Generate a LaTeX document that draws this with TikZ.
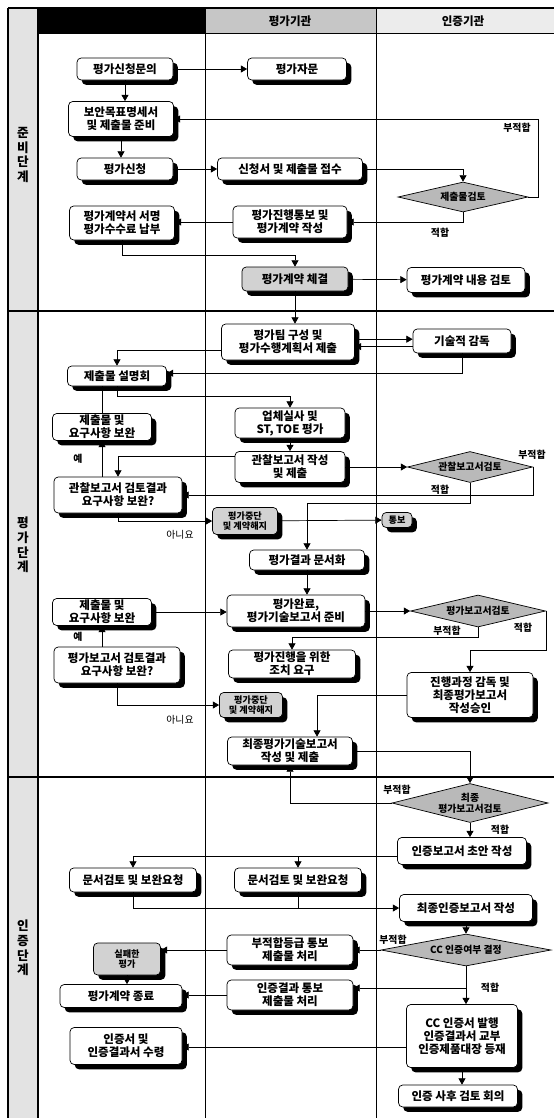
\documentclass[tikz,border=0pt]{standalone}
\usepackage{fontspec}
\setmainfont{Noto Sans CJK KR}
\usepackage{tikz}
\usetikzlibrary{arrows.meta,positioning,shapes.geometric,shadows,calc}

\begin{document}
\begin{tikzpicture}[x=0.025cm,y=-0.025cm,>={Triangle[length=4.5pt,width=5pt]},
      line width=0.5pt,font=\bfseries\fontsize{8.2}{9.3}\selectfont,
      sz/.style 2 args={minimum width=#1*0.025cm,minimum height=#2*0.025cm},
      box/.style={draw,fill=white,rounded corners=3pt,align=center,inner sep=1pt,
        drop shadow={shadow xshift=0.12cm,shadow yshift=-0.12cm,opacity=1,fill=black}},
      gbox/.style={box,fill=gray!35},
      dec/.style={diamond,draw,fill=gray!55,aspect=4,inner sep=0pt,align=center,font=\bfseries\fontsize{7}{8}\selectfont},
      lbl/.style={inner sep=0pt,font=\bfseries\fontsize{7}{8}\selectfont},
      phase/.style={align=center,inner sep=0pt,font=\bfseries\fontsize{9}{10.5}\selectfont}]
    \useasboundingbox (0,0) rectangle (554,1118);
    \fill[gray!22] (8,8) rectangle (38,1118);
    \fill[black] (38,8) rectangle (205,33);
    \fill[gray!45] (205,8) rectangle (376,33);
    \fill[gray!15] (376,8) rectangle (554,33);
    \node (h2) at (290,21) {평가기관};
    \node (h3) at (463,21) {인증기관};
    \draw[line width=1pt] (8,8) -- (554,8);
    \draw (38,33) -- (554,33);
    \draw[line width=1pt] (8,8) -- (8,1118);
    \draw[line width=1.5pt] (38,8) -- (38,1118);
    \draw (205,8) -- (205,1118);
    \draw (376,8) -- (376,1118);
    \draw[line width=1pt] (8,311) -- (554,311);
    \draw[line width=1pt] (8,777) -- (554,777);
    \node[phase] (p1) at (23,155) {준\\비\\단\\계};
    \node[phase] (p2) at (23,545) {평\\가\\단\\계};
    \node[phase] (p3) at (23,948) {인\\증\\단\\계};

    \node[box,sz={96}{22}] (inq) at (125,69) {평가신청문의};
    \node[box,sz={99}{22}] (adv) at (297,69) {평가자문};
    \node[box,sz={105}{35}] (st) at (121,119) {보안목표명세서\\및 제출물 준비};
    \node[box,sz={96}{22}] (app) at (125,169) {평가신청};
    \node[box,sz={145}{22}] (rcv) at (290,169) {신청서 및 제출물 접수};
    \node[dec,sz={130}{30}] (chk) at (463,197) {제출물검토};
    \node[box,sz={114}{32}] (ntf) at (290,222) {평가진행통보 및\\평가계약 작성};
    \node[box,sz={105}{34}] (sign) at (122,223) {평가계약서 서명\\평가수수료 납부};
    \node[gbox,sz={106}{24}] (ctr) at (295,279) {평가계약 체결};
    \node[box,sz={118}{25}] (rev) at (466,280) {평가계약 내용 검토};

    \node[box,sz={133}{36}] (team) at (288,342) {평가팀 구성 및\\평가수행계획서 제출};
    \node[box,sz={98}{24}] (sup) at (462,341) {기술적 감독};
    \node[box,sz={99}{20}] (brief) at (117,376) {제출물 설명회};
    \node[box,sz={99}{27}] (fix1) at (102,427) {제출물 및\\요구사항 보완};
    \node[box,sz={110}{30}] (site) at (290,423) {업체실사 및\\ST, TOE 평가};
    \node[box,sz={110}{31}] (obs) at (290,467) {관찰보고서 작성\\및 제출};
    \node[dec,sz={125}{31}] (obsd) at (470,467) {관찰보고서검토};
    \node[box,sz={128}{36}] (q1) at (118,495) {관찰보고서 검토결과\\요구사항 보완?};
    \node[gbox,sz={65}{27},font=\bfseries\fontsize{6.5}{7.5}\selectfont] (stop1) at (245,521) {평가중단\\및 계약해지};
    \node[gbox,sz={30}{15},font=\bfseries\fontsize{6.5}{7.5}\selectfont] (tel) at (397,520) {통보};
    \node[box,sz={115}{20}] (doc) at (307,560) {평가결과 문서화};
    \node[box,sz={138}{32}] (done) at (296,611) {평가완료,\\평가기술보고서 준비};
    \node[box,sz={99}{27}] (fix2) at (102,612) {제출물 및\\요구사항 보완};
    \node[dec,sz={135}{32}] (evd) at (478,611) {평가보고서검토};
    \node[box,sz={127}{28}] (act) at (292,664) {평가진행을 위한\\조치 요구};
    \node[box,sz={126}{36}] (q2) at (117,665) {평가보고서 검토결과\\요구사항 보완?};
    \node[gbox,sz={63}{25},font=\bfseries\fontsize{6.5}{7.5}\selectfont] (stop2) at (251,705) {평가중단\\및 계약해지};
    \node[box,sz={126}{45}] (prog) at (470,695) {진행과정 감독 및\\최종평가보고서\\작성승인};
    \node[box,sz={125}{28}] (fin) at (290,751) {최종평가기술보고서\\작성 및 제출};

    \node[dec,sz={156}{39}] (fnd) at (470,803) {최종\\평가보고서검토};
    \node[box,sz={129}{27}] (draft) at (462,851) {인증보고서 초안 작성};
    \node[box,sz={127}{24}] (dl) at (133,880) {문서검토 및 보완요청};
    \node[box,sz={127}{24}] (dm) at (298,880) {문서검토 및 보완요청};
    \node[box,sz={133}{27}] (frep) at (466,908) {최종인증보고서 작성};
    \node[dec,sz={170}{32}] (ccd) at (466,950) {CC 인증여부 결정};
    \node[box,sz={126}{30}] (bad) at (290,950) {부적합등급 통보\\제출물 처리};
    \node[gbox,sz={67}{32},font=\bfseries\fontsize{6.5}{7.5}\selectfont] (fail) at (127,959) {실패한\\평가};
    \node[box,sz={122}{23}] (end) at (121,996) {평가계약 종료};
    \node[box,sz={126}{30}] (res) at (290,995) {인증결과 통보\\제출물 처리};
    \node[box,sz={111}{63}] (cert) at (462,1036) {CC 인증서 발행\\인증결과서 교부\\인증제품대장 등재};
    \node[box,sz={112}{37}] (recv) at (126,1046) {인증서 및\\인증결과서 수령};
    \node[box,sz={119}{22}] (post) at (458,1096) {인증 사후 검토 회의};

    \draw[->] (inq) -- (adv);
    \draw[->] (inq.south) -- (inq.south |- st.north);
    \draw[->] (st.south) -- (st.south |- app.north);
    \draw[->] (app) -- (rcv);
    \draw[->] (rcv.east) -| (chk.north);
    \draw[->] (chk.east) -- ++(10,0) |- (st.east);
    \draw[->] (chk.south) |- (ntf.east);
    \draw[->] (ntf.west) -- (ntf.west -| sign.east);
    \draw[->] (sign.south) -- ++(0,15) -| (ctr.north);
    \draw[->] (ctr) -- (rev);
    \draw[->] (ctr.south) -- (ctr.south |- team.north);
    \draw[->] ([yshift=2pt]team.east) -- ([yshift=2pt]team.east -| sup.west);
    \draw[->] ([yshift=-4pt]sup.west) -- ([yshift=-4pt]sup.west -| team.east);
    \draw[->] ([yshift=-0.22cm]team.west) -| (brief.north);
    \draw[->] (sup.south) |- ([yshift=2pt]brief.east);
    \draw[->] (brief.south) -- ++(0,10) -| (site.north);
    \draw (fix1.north) -- (fix1.north |- brief.south);
    \draw[->] (q1.north -| fix1.south) -- (fix1.south);
    \draw[->] (site) -- (obs);
    \draw[->] ([yshift=0.27cm]obs.west) -| (q1.north);
    \draw[->] (obs) -- (obsd);
    \draw[->] (obsd.east) |- (q1.east);
    \draw[->] (obsd.south) -- ++(0,20) -| (doc.north);
    \draw[->] (q1.south) |- (stop1.west);
    \draw[->] (stop1) -- (tel);
    \draw[->] (doc.south) -- (doc.south |- done.north);
    \draw[->] (fix2.east) -- (fix2.east -| done.west);
    \draw[->] (done) -- (evd);
    \draw[->] (evd.south) -- ++(0,10) -| (act.north);
    \draw[->] (evd.east) -- ++(0,39) -| (prog.north);
    \draw[->] (q2.north -| fix2.south) -- (fix2.south);
    \draw[->] (q2.south) |- (stop2.west);
    \draw[->] (prog.west) -| ([xshift=0.675cm]fin.north);
    \draw[->] (fin.east) -| (fnd.north);
    \draw[->] (fnd.west) -| (fin.south);
    \draw[->] (fnd.south) -- (fnd.south |- draft.north);
    \draw[->] ([yshift=-0.125cm]draft.west) -| (dl.north);
    \draw[->] ([yshift=-0.125cm]draft.west) -| (dm.north);
    \draw[->] (dl.south) |- (frep.west);
    \draw (dm.south) -- (dm.south |- frep.west);
    \draw[->] (frep) -- (ccd);
    \draw[->] (ccd) -- (bad);
    \draw[->] (ccd.south) -- (ccd.south |- cert.north);
    \coordinate (br) at (ccd.south |- 0,988);
    \draw[->] (br) -- (br -| res.east);
    \draw[->] (bad.west) -- (bad.west -| fail.east);
    \draw[->] (fail.south) -- (fail.south |- end.north);
    \draw[->] (res.west) -- (res.west -| end.east);
    \draw[->] ([yshift=-0.275cm]cert.west) -- ([yshift=-0.275cm]cert.west -| recv.east);
    \draw[->] (cert.south) -- (cert.south |- post.north);

    \node[lbl] (t1) at (517,128) {부적합};
    \node[lbl] (t2) at (440,233) {적합};
    \node[lbl] (t3) at (78,459) {예};
    \node[lbl] (t4) at (532,455) {부적합};
    \node[lbl] (t5) at (440,490) {적합};
    \node[lbl,font=\fontsize{7}{8}\selectfont] (t6) at (180,535) {아니요};
    \node[lbl] (t7) at (447,631) {부적합};
    \node[lbl] (t8) at (523,628) {적합};
    \node[lbl] (t9) at (78,637) {예};
    \node[lbl,font=\fontsize{7}{8}\selectfont] (t10) at (180,720) {아니요};
    \node[lbl] (t11) at (397,790) {부적합};
    \node[lbl] (t12) at (500,830) {적합};
    \node[lbl] (t13) at (393,940) {부적합};
    \node[lbl] (t14) at (490,988) {적합};
\end{tikzpicture}
\end{document}
